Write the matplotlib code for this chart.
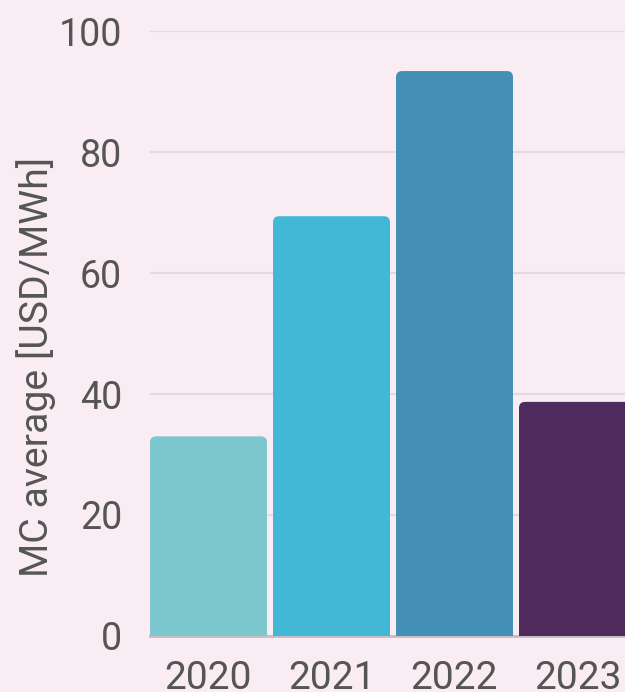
import matplotlib.pyplot as plt
from matplotlib.patches import FancyBboxPatch

years = ["2020", "2021", "2022", "2023"]
mc_average = [33.0, 69.4, 93.4, 38.7]
colors = ["#7cc6cd", "#42b7d6", "#448fb5", "#4f2a5c"]

plt.rcParams["font.family"] = ["Roboto", "DejaVu Sans"]
bg = "#f9ecf3"

fig = plt.figure(figsize=(6.25, 6.92), dpi=100, facecolor=bg)
ax = fig.add_axes([0.24, 0.081, 0.76, 0.874], facecolor=bg)

bars = ax.bar(range(len(years)), mc_average, width=0.951, color=colors)

# swap the plain bars for ones with rounded top corners
for b in bars:
    b.set_visible(False)
    fb = FancyBboxPatch((b.get_x(), -3), b.get_width(), b.get_height() + 3,
                        boxstyle="round,pad=0,rounding_size=0.05",
                        mutation_aspect=20, facecolor=b.get_facecolor(),
                        edgecolor="none", zorder=2)
    ax.add_patch(fb)

ax.set_xlim(-0.4756, -0.4756 + 475 / 123)
ax.set_ylim(0, 100)
ax.set_yticks(range(0, 101, 20))
ax.set_xticks(range(len(years)))
ax.set_xticklabels(years)

ax.grid(axis="y", color="#e6d8e0", lw=1.5, zorder=0)
ax.set_axisbelow(True)
for s in ["top", "right", "left"]:
    ax.spines[s].set_visible(False)
ax.spines["bottom"].set_color("#c8bcc3")
ax.spines["bottom"].set_linewidth(2)
ax.spines["bottom"].set_zorder(1)

ax.tick_params(axis="both", length=0, labelcolor="#555555")
ax.tick_params(axis="y", pad=20, labelsize=27)
ax.tick_params(axis="x", pad=17, labelsize=28)
ax.set_ylabel("MC average [USD/MWh]", fontsize=28.3, color="#555555")
ax.yaxis.set_label_coords(-0.197, 0.444)

fig.savefig("out.png", dpi=100, facecolor=bg)
